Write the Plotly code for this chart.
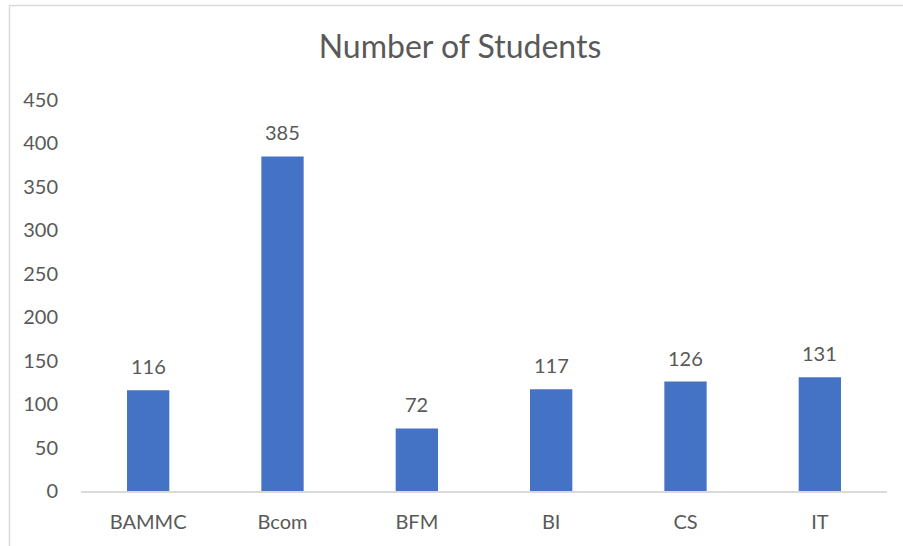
import plotly.graph_objects as go

categories = ["BAMMC", "Bcom", "BFM", "BI", "CS", "IT"]
students = [116, 385, 72, 117, 126, 131]
y_ticks = [0, 50, 100, 150, 200, 250, 300, 350, 400, 450]

TEXT = "#595959"
FONT = "Lato"

fig = go.Figure()
fig.add_trace(go.Bar(
    x=categories, y=students,
    marker=dict(color="#4472C4", line=dict(width=0)),
    width=0.315,
    hoverinfo="x+y",
))

for c, v in zip(categories, students):
    fig.add_annotation(x=c, y=v, text=str(v), showarrow=False,
                       yshift=24, font=dict(family=FONT, size=20, color=TEXT))

W, H = 903, 546
L, R, T, B = 81, 16, 100, 55
pw, ph = W - L - R, H - T - B

def px(xp):
    return (xp - L) / pw

def py(yp):
    return (H - B - yp) / ph

# chart-area border (top and left edges visible)
fig.add_shape(type="line", xref="paper", yref="paper",
              x0=px(9.5), x1=px(910), y0=py(5.5), y1=py(5.5),
              line=dict(color="#d9d9d9", width=1.5))
fig.add_shape(type="line", xref="paper", yref="paper",
              x0=px(9.5), x1=px(9.5), y0=py(5.5), y1=py(560),
              line=dict(color="#d9d9d9", width=1.5))

fig.update_layout(
    width=W, height=H,
    margin=dict(l=L, r=R, t=T, b=B),
    paper_bgcolor="white", plot_bgcolor="white",
    showlegend=False,
    title=dict(text="Number of Students", x=(460) / W, xanchor="center",
               y=1 - 47 / H, yanchor="middle", yref="container",
               font=dict(family=FONT, size=32, color=TEXT)),
    bargap=0.685,
)
fig.update_xaxes(
    showline=True, linecolor="#d9d9d9", linewidth=1.5,
    showgrid=False, ticks="", ticklabelstandoff=12,
    tickfont=dict(family=FONT, size=20, color=TEXT),
)
fig.update_yaxes(
    range=[0, 450], tickvals=y_ticks, showgrid=False, zeroline=False,
    showline=False, ticks="", ticklabelstandoff=22,
    tickfont=dict(family=FONT, size=20, color=TEXT),
)

fig.write_html("out.html")
